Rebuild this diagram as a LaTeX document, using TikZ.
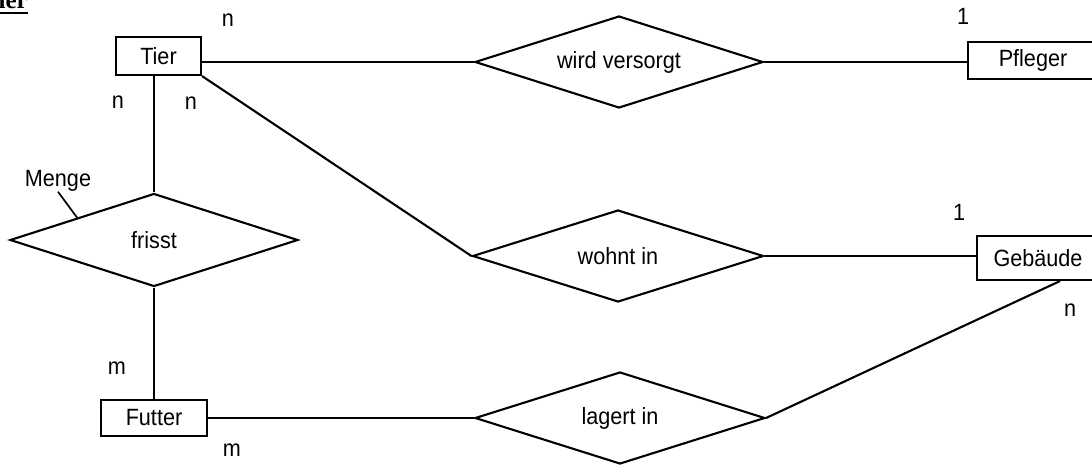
\documentclass[tikz,border=0pt]{standalone}
\usepackage{fontspec}
\setmainfont[FakeStretch=0.92]{Liberation Sans}
\newfontfamily\headfont{Liberation Serif}
\usetikzlibrary{shapes.geometric,calc}
\begin{document}
\begin{tikzpicture}[x=1pt,y=-1pt,
  every node/.style={font=\fontsize{23.5}{25}\selectfont},
  entity/.style={draw, line width=2.1pt, rectangle, inner sep=0pt},
  relation/.style={draw, line width=2.1pt, diamond, shape aspect=3.1, inner sep=0pt},
  conn/.style={line width=2.1pt},
  card/.style={inner sep=0pt}]
\useasboundingbox (0,0) rectangle (1092,464);
\clip (0,0) rectangle (1092,464);
% clipped heading
\node[anchor=base east, inner sep=0pt, font=\headfont\bfseries\fontsize{25}{27}\selectfont] (head) at (28,8) {ier};
\draw[line width=2.4pt] (0,13) -- (head.east |- 0,13);
% entities
\node[entity, minimum width=85pt, minimum height=38pt] (tier) at (158.5,56) {Tier};
\node[entity, minimum width=130pt, minimum height=37pt] (pf) at (1033,60.5) {Pfleger};
\node[entity, minimum width=122pt, minimum height=44pt] (geb) at (1038,258) {Gebäude};
\node[entity, minimum width=106pt, minimum height=36pt] (fu) at (154,418) {Futter};
% relations
\node[relation, minimum width=288pt, minimum height=92pt] (wv) at (619,62) {wird versorgt};
\node[relation, minimum width=291pt, minimum height=92pt] (wi) at (618,256) {wohnt in};
\node[relation, minimum width=290pt, minimum height=92pt] (li) at (620,418) {lagert in};
\node[relation, minimum width=288pt, minimum height=93pt] (fr) at (154,240) {frisst};
% attribute
\node[card] (menge) at (58,181) {Menge};
% connectors
\draw[conn] (tier.east |- wv.west) -- (wv.west);
\draw[conn] (wv.east) -- (wv.east -| pf.west);
\draw[conn] (tier.south east) -- (wi.west);
\draw[conn] (wi.east) -- (wi.east -| geb.west);
\draw[conn] (fr.north) -- (fr.north |- tier.south);
\draw[conn] (fr.south) -- (fr.south |- fu.north);
\draw[conn] (fu.east) -- (li.west);
\draw[conn] (li.east) -- ([xshift=22pt]geb.south);
\draw[line width=1.7pt] (menge.south) -- ($(fr.west)!0.47!(fr.north)$);
% cardinalities
\node[card] (c1) at (228,20) {n};
\node[card] (c2) at (118,102) {n};
\node[card] (c3) at (191,103) {n};
\node[card] (c4) at (963,16) {1};
\node[card] (c5) at (959,212) {1};
\node[card] (c6) at (1070,310) {n};
\node[card] (c7) at (117,368) {m};
\node[card] (c8) at (232,450) {m};
\end{tikzpicture}
\end{document}
